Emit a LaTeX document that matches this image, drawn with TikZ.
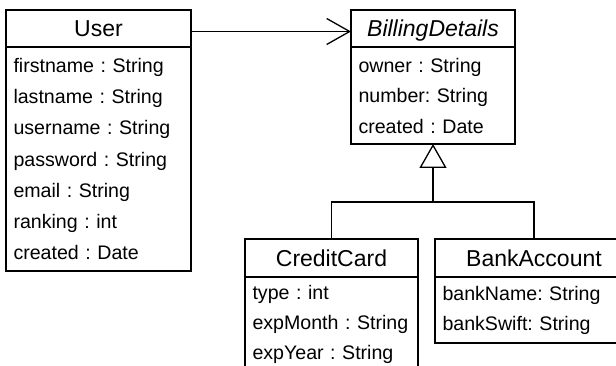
\documentclass[tikz,border=0pt]{standalone}
\usepackage{fontspec}
\setmainfont{Liberation Sans}
\frenchspacing
\usetikzlibrary{arrows.meta}

\begin{document}
\begin{tikzpicture}[x=1pt,y=-1pt,
    classhead/.style={draw, line width=1.3pt, anchor=north west, outer sep=0pt,
        inner sep=0pt, minimum height=37pt, text height=16.4pt, text depth=0pt,
        font=\fontsize{23}{27}\selectfont},
    attrs/.style={draw, line width=1.3pt, anchor=north west, outer sep=0pt,
        align=left, inner xsep=7.5pt, inner ysep=0pt,
        font=\fontsize{19.6}{#1}\selectfont\frenchspacing},
    attrs/.default=30]
    \useasboundingbox (0,0) rectangle (616,366);

    %User
    \node [classhead, minimum width=185pt] (userhead) at (6,10) {User};
    \node [attrs=31.3, text width=170pt, minimum height=224pt] (userbody) at (6,47)
        {firstname : String\\ lastname : String\\ username : String\\ password : String\\
         email : String\\ ranking : int\\ created : Date};

    %BillingDetails
    \node [classhead, minimum width=164pt] (billhead) at (351,10) {\itshape BillingDetails};
    \node [attrs=30.5, text width=149pt, minimum height=97pt] (billbody) at (351,47)
        {owner : String\\ number: String\\ created : Date};

    %CreditCard
    \node [classhead, minimum width=173pt, minimum height=38pt] (credithead) at (245,239) {CreditCard};
    \node [attrs=29.7, text width=158pt, minimum height=95pt] (creditbody) at (245,277)
        {type : int\\ expMonth : String\\ expYear : String};

    %BankAccount
    \node [classhead, minimum width=198pt, minimum height=38pt] (bankhead) at (435,239) {BankAccount};
    \node [attrs, text width=183pt, minimum height=66pt] (bankbody) at (435,277)
        {bankName: String\\ bankSwift: String};

    %association
    \draw [line width=1.3pt, -{Straight Barb[length=23pt, width=26pt]}]
        ([yshift=-3pt]userhead.east) -- ([yshift=-3pt]billhead.west);

    %generalization
    \coordinate (fork) at (billbody.south |- 0,202);
    \draw [line width=1.3pt, -{Triangle[open, length=24pt, width=27pt]}] (fork) -- (billbody.south);
    \draw [line width=1.3pt] (credithead.north) |- (fork) -| (bankhead.north);
\end{tikzpicture}
\end{document}
